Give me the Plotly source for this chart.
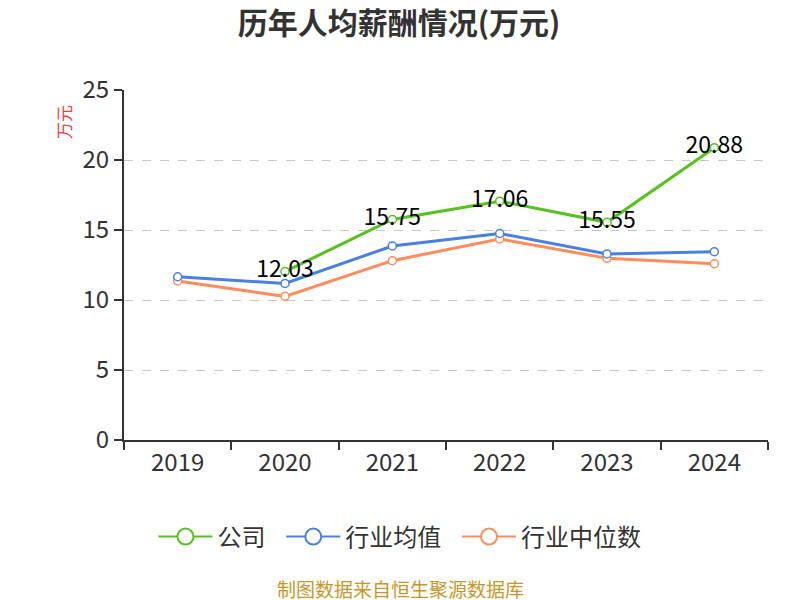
import plotly.graph_objects as go

years = ["2019", "2020", "2021", "2022", "2023", "2024"]
company = [None, 12.03, 15.75, 17.06, 15.55, 20.88]
industry_avg = [11.66, 11.18, 13.86, 14.75, 13.29, 13.45]
industry_median = [11.36, 10.26, 12.81, 14.36, 12.98, 12.59]
company_labels = ["" if v is None else f"{v:.2f}" for v in company]

names = ["公司", "行业均值", "行业中位数"]
colors = ["#55c21e", "#4a80e2", "#ff8c5a"]
series = [company, industry_avg, industry_median]

FONT = "Noto Sans CJK SC, Microsoft YaHei, sans-serif"

# page body has an 8px margin; size the figure so that it fills the window
OFF = 8
W, H = 800 - OFF, 600 - OFF
PL, PR, PT, PB = 124, 768, 90, 440  # plot area in window pixels
PW, PH = PR - PL, PB - PT

fig = go.Figure()

for i in [2, 1, 0]:
    fig.add_trace(go.Scatter(
        x=years, y=series[i], mode="lines+markers", name=names[i],
        line=dict(color=colors[i], width=3),
        marker=dict(symbol="circle", size=8, color="white",
                    line=dict(color=colors[i], width=1.5)),
        showlegend=False, connectgaps=False, hoverinfo="x+y",
    ))

fig.add_trace(go.Scatter(
    x=years, y=company, mode="text", text=company_labels,
    textposition="middle center",
    textfont=dict(size=23, color="#000000", family=FONT),
    showlegend=False, hoverinfo="skip",
))

for i in range(3):
    fig.add_trace(go.Scatter(
        x=[None], y=[None], mode="lines+markers",
        name=names[i] + ("\u00a0\u00a0" if i < 2 else ""),
        line=dict(color=colors[i], width=2),
        marker=dict(symbol="circle", size=16, color="white",
                    line=dict(color=colors[i], width=2)),
        showlegend=True,
    ))

fig.update_layout(
    width=W, height=H,
    margin=dict(l=PL - OFF, r=800 - PR, t=PT - OFF, b=H - (PB - OFF), pad=0),
    paper_bgcolor="white", plot_bgcolor="white",
    font=dict(family=FONT, color="#333333"),
    title=dict(text="<b>历年人均薪酬情况(万元)</b>", x=(399 - OFF) / W, xanchor="center",
               y=1 - (23 - OFF) / H, yanchor="middle",
               font=dict(size=30, color="#333333", family=FONT)),
    legend=dict(orientation="h", x=(400 - PL) / PW, xanchor="center",
                y=(PB - 537) / PH, yanchor="middle",
                font=dict(size=24, color="#333333", family=FONT),
                itemwidth=54, traceorder="normal"),
    showlegend=True,
    xaxis=dict(
        type="category", range=[-0.5, 5.5], automargin=False,
        showline=True, linecolor="#333333", linewidth=2,
        ticks="outside", tickson="boundaries", ticklen=8, tickcolor="#333333",
        tickwidth=1.5,
        tickfont=dict(size=24, color="#333333", family=FONT),
        showgrid=False, zeroline=False, fixedrange=True,
    ),
    yaxis=dict(
        range=[0, 25], dtick=5, tick0=0, automargin=False,
        showline=True, linecolor="#333333", linewidth=2,
        ticks="outside", ticklen=8, tickcolor="#333333", tickwidth=1.5,
        tickfont=dict(size=24, color="#333333", family=FONT),
        showgrid=True, gridcolor="#c8c8c8", griddash="dash", gridwidth=1,
        zeroline=False, fixedrange=True,
    ),
    annotations=[
        dict(text="万元", xref="paper", yref="paper",
             x=(63 - PL) / PW, y=(PB - 122) / PH,
             xanchor="center", yanchor="middle", textangle=-90,
             showarrow=False, font=dict(size=17, color="#f03c3c", family=FONT)),
        dict(text="制图数据来自恒生聚源数据库", xref="paper", yref="paper",
             x=(400 - PL) / PW, y=(PB - 588) / PH,
             xanchor="center", yanchor="middle", showarrow=False,
             font=dict(size=19, color="#c8962a", family=FONT)),
    ],
)

fig.write_html("out.html")
